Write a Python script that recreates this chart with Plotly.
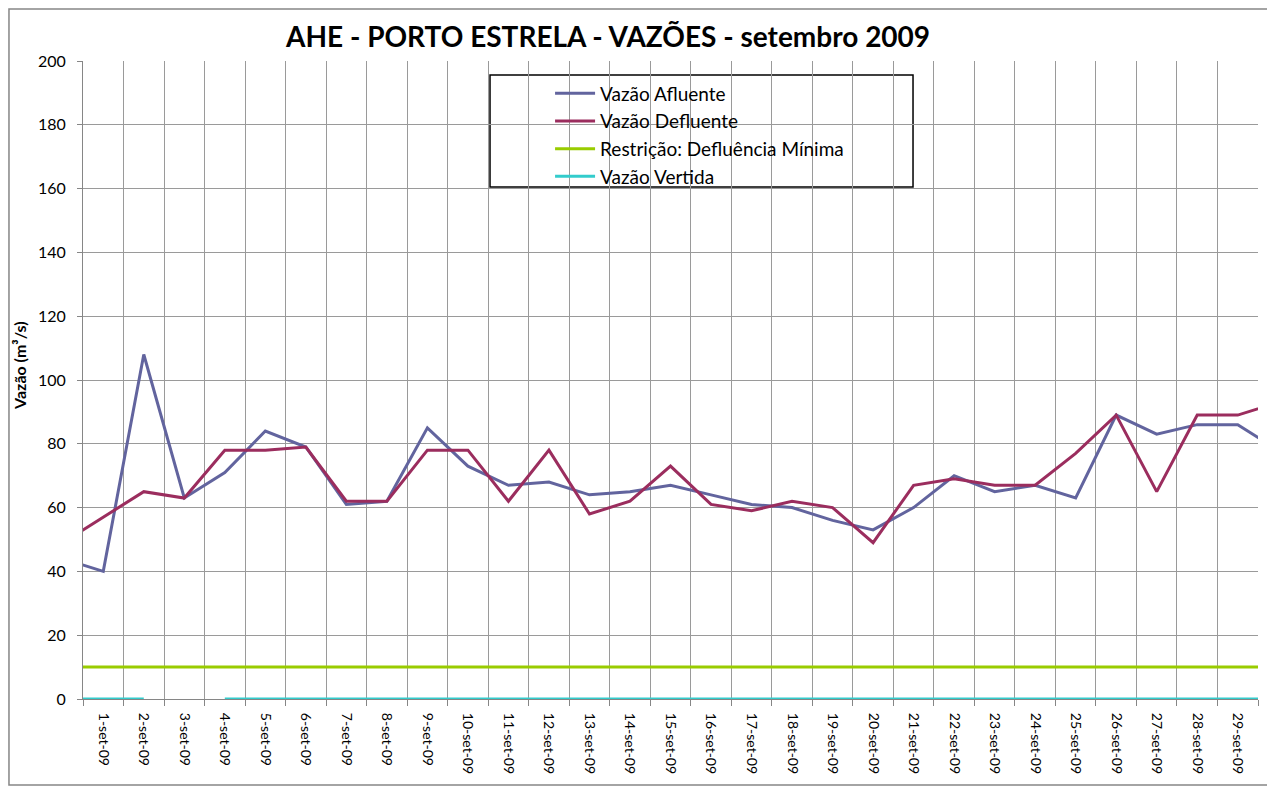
import plotly.graph_objects as go

# categories (first and last are partially outside the visible range)
dias = ["31-ago-09"] + [f"{d}-set-09" for d in range(1, 30)] + ["30-set-09"]

afluente = [44, 40, 108, 63, 71, 84, 79, 61, 62, 85, 73, 67, 68, 64, 65, 67,
            64, 61, 60, 56, 53, 60, 70, 65, 67, 63, 89, 83, 86, 86, 78]
defluente = [49, 57, 65, 63, 78, 78, 79, 62, 62, 78, 78, 62, 78, 58, 62, 73,
             61, 59, 62, 60, 49, 67, 69, 67, 67, 77, 89, 65, 89, 89, 93]
restricao = [10] * 31
vertida = [0, 0, 0, None] + [0] * 27

fig = go.Figure()
series = [
    ("Vazão Afluente", afluente, "#62649E"),
    ("Vazão Defluente", defluente, "#9B2D5E"),
    ("Restrição: Defluência Mínima", restricao, "#99CC00"),
    ("Vazão Vertida", vertida, "#33CCCC"),
]
for name, vals, col in series:
    fig.add_trace(go.Scatter(x=dias, y=vals, name=name, mode="lines",
                             line=dict(color=col, width=3), connectgaps=False))

fig.update_layout(
    width=1267, height=778,
    margin=dict(l=75, r=17, t=53, b=87),
    paper_bgcolor="white", plot_bgcolor="white",
    font=dict(family="Lato, 'Open Sans', sans-serif", color="#000000"),
    title=dict(text="<b>AHE - PORTO ESTRELA - VAZÕES - setembro 2009</b>",
               x=0.4736, xanchor="center", y=0.9627, yanchor="middle",
               font=dict(size=28, color="#000000")),
    showlegend=True,
    legend=dict(x=0.3975, y=0.979, xanchor="left", yanchor="top",
                bgcolor="rgba(0,0,0,0)", borderwidth=0,
                font=dict(size=19, color="#000000"),
                traceorder="normal", itemwidth=40),
    xaxis=dict(type="category", range=[0.5, 29.5], tickson="boundaries",
               showgrid=True, gridcolor="#9A9A9A", gridwidth=1,
               ticks="outside", ticklen=6, tickcolor="#868686",
               showline=True, linecolor="#868686", linewidth=1,
               tickangle=90, tickfont=dict(size=14), ticklabelstandoff=10),
    yaxis=dict(range=[0, 200], dtick=20, showgrid=True, gridcolor="#9A9A9A",
               gridwidth=1, zeroline=False, showline=True, linecolor="#868686",
               ticks="outside", ticklen=5, tickcolor="#868686",
               tickfont=dict(size=16), ticklabelstandoff=8),
    annotations=[
        dict(text="<b>Vazão (m³/s)</b>", xref="paper", yref="paper",
             x=-0.0536, y=0.522, xanchor="center", yanchor="middle",
             textangle=-90, showarrow=False, font=dict(size=16, color="#000000")),
    ],
    shapes=[
        dict(type="rect", xref="paper", yref="paper", x0=0.3464, x1=0.7064,
             y0=0.8025, y1=0.978, line=dict(color="black", width=1.5),
             fillcolor="white", layer="below"),
        dict(type="rect", xref="paper", yref="paper", x0=-0.063, x1=1.0128,
             y0=-0.1348, y1=1.0815, line=dict(color="#868686", width=1.5)),
    ],
)

fig.write_html("out.html")
